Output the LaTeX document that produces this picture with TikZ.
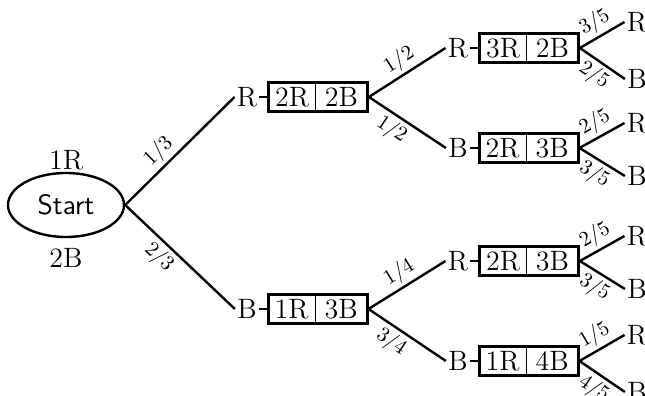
\documentclass[tikz,border=0pt]{standalone}
\usetikzlibrary{positioning,shapes.geometric,fit}
\tikzset{
	branch/.style={line width=1.2pt},
	frac/.style={font=\fontsize{10.5}{12}\selectfont, sloped, inner sep=1.5pt},
	ball/.style={inner sep=1pt, font=\fontsize{14}{16}\selectfont},
	cell/.style={draw, line width=0.6pt, minimum height=14.5pt, inner sep=0pt, outer sep=0pt, font=\fontsize{14}{16}\selectfont},
	frame/.style={draw, line width=1.4pt, inner sep=0pt},
}
\newcommand{\urn}[4]{%
	\node[cell, minimum width=23.5pt, right=4.5pt of #1] (#2l) {#3};
	\node[cell, minimum width=26pt, right=0pt of #2l] (#2r) {#4};
	\node[frame, fit=(#2l)(#2r)] (#2) {};
	\draw[line width=0.7pt] (#1.east) -- (#2l.west);
}

\begin{document}
\begin{tikzpicture}[x=0.5pt,y=-0.5pt]
			%%%%% START %%%%%
			\useasboundingbox (0,0) rectangle (645,396);
			
			\node[draw, ellipse, line width=1.2pt, minimum width=58pt, minimum height=32pt, inner sep=0pt, font=\sffamily\fontsize{14}{16}\selectfont] (start) at (66,205) {Start};
			\node[ball] (startr) at (66,160) {1R};
			\node[ball] (startb) at (66,258) {2B};
			
			% first draw
			\node[ball] (r) at (247,97) {R};
			\node[ball] (b) at (247,309) {B};
			\urn{r}{rbox}{2R}{2B}
			\urn{b}{bbox}{1R}{3B}
			\draw[branch] (start.east) -- node[frac, above, pos=0.4] {1/3} (r.west);
			\draw[branch] (start.east) -- node[frac, below, pos=0.4] {2/3} (b.west);
			
			% second draw
			\node[ball] (rr) at (458,48) {R};
			\node[ball] (rb) at (458,148) {B};
			\node[ball] (br) at (458,261) {R};
			\node[ball] (bb) at (458,361) {B};
			\urn{rr}{rrbox}{3R}{2B}
			\urn{rb}{rbbox}{2R}{3B}
			\urn{br}{brbox}{2R}{3B}
			\urn{bb}{bbbox}{1R}{4B}
			\draw[branch] (rbox.east) -- node[frac, above] {1/2} (rr.west);
			\draw[branch] (rbox.east) -- node[frac, below, pos=0.4] {1/2} (rb.west);
			\draw[branch] (bbox.east) -- node[frac, above] {1/4} (br.west);
			\draw[branch] (bbox.east) -- node[frac, below, pos=0.4] {3/4} (bb.west);
			
			% third draw
			\node[ball] (rrr) at (637,22) {R};
			\node[ball] (rrb) at (637,79) {B};
			\node[ball] (rbr) at (637,123) {R};
			\node[ball] (rbb) at (637,176) {B};
			\node[ball] (brr) at (637,236) {R};
			\node[ball] (brb) at (637,289) {B};
			\node[ball] (bbr) at (637,335) {R};
			\node[ball] (bbb) at (637,392) {B};
			\draw[branch] (rrbox.east) -- node[frac, above] {3/5} (rrr.west);
			\draw[branch] (rrbox.east) -- node[frac, below] {2/5} (rrb.west);
			\draw[branch] (rbbox.east) -- node[frac, above] {2/5} (rbr.west);
			\draw[branch] (rbbox.east) -- node[frac, below] {3/5} (rbb.west);
			\draw[branch] (brbox.east) -- node[frac, above] {2/5} (brr.west);
			\draw[branch] (brbox.east) -- node[frac, below] {3/5} (brb.west);
			\draw[branch] (bbbox.east) -- node[frac, above] {1/5} (bbr.west);
			\draw[branch] (bbbox.east) -- node[frac, below] {4/5} (bbb.west);
			
			%%%%% END %%%%%
\end{tikzpicture}
\end{document}
